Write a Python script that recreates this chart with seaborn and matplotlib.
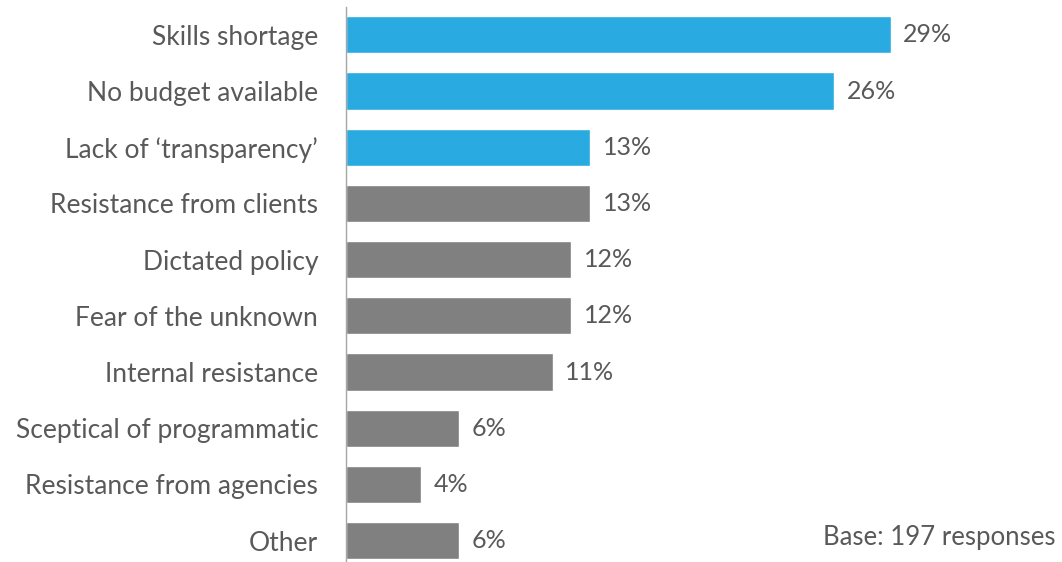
import matplotlib
matplotlib.use("Agg")
import matplotlib.pyplot as plt
import seaborn as sns
import pandas as pd

categories = [
    "Skills shortage",
    "No budget available",
    "Lack of \u2018transparency\u2019",
    "Resistance from clients",
    "Dictated policy",
    "Fear of the unknown",
    "Internal resistance",
    "Sceptical of programmatic",
    "Resistance from agencies",
    "Other",
]
values = [29, 26, 13, 13, 12, 12, 11, 6, 4, 6]
highlight = [True, True, True, False, False, False, False, False, False, False]
base_note = "Base: 197 responses"

BLUE = "#29ABE2"
GREY = "#808080"
TEXT = "#595959"

sns.set_theme(style="white")
plt.rcParams["font.family"] = ["Lato", "DejaVu Sans"]

df = pd.DataFrame({"category": categories, "value": values,
                   "group": ["hi" if h else "lo" for h in highlight]})

fig = plt.figure(figsize=(10.62, 5.62), dpi=100)
ax = fig.add_axes([346 / 1062, -0.012, 0.672, 1.0])

sns.barplot(data=df, y="category", x="value", hue="group",
            palette={"hi": BLUE, "lo": GREY}, dodge=False, legend=False,
            width=0.66, orient="h", ax=ax, saturation=1)

ax.set_xlim(0, 38)
ax.set_xlabel("")
ax.set_ylabel("")
ax.set_xticks([])
for s in ["top", "right", "bottom"]:
    ax.spines[s].set_visible(False)
ax.spines["left"].set_color("#A6A6A6")
ax.spines["left"].set_linewidth(1)
ax.tick_params(axis="y", length=0, pad=20, labelsize=19, labelcolor=TEXT)

for container in ax.containers:
    ax.bar_label(container, labels=[f"{v:.0f}%" for v in container.datavalues],
                 padding=9, fontsize=18, color=TEXT)

fig.text(0.994, 1 - 537 / 562, base_note, ha="right", va="center",
         fontsize=18.5, color=TEXT)

fig.savefig("out.png", dpi=100)
